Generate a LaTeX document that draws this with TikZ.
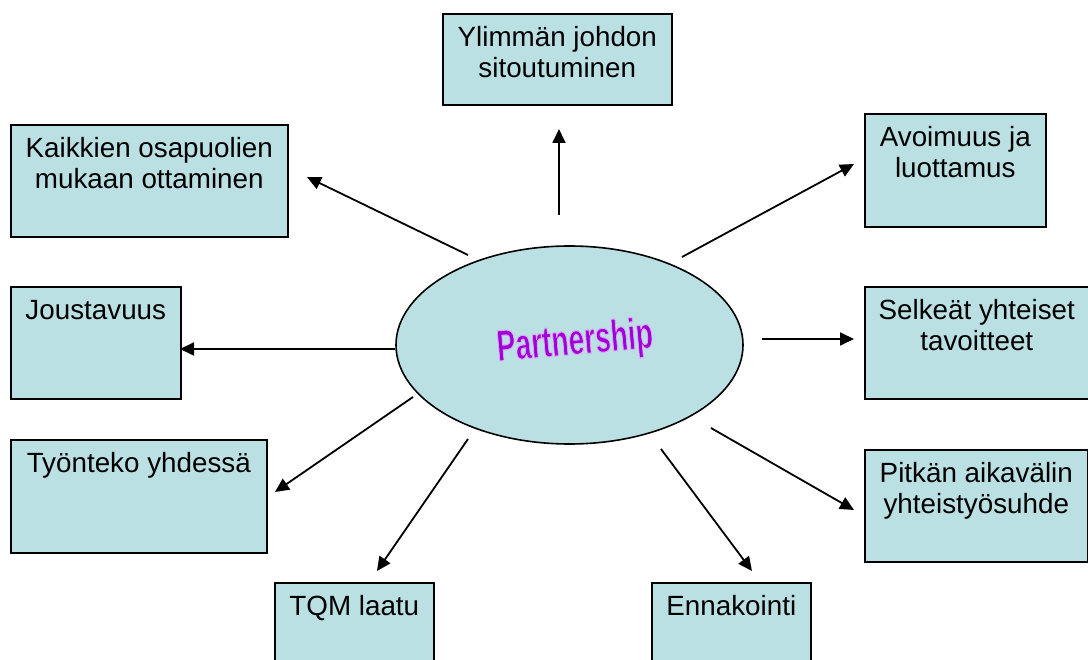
\documentclass[tikz,border=0pt]{standalone}
\usepackage{fontspec}
\setmainfont{Liberation Sans}
\usetikzlibrary{shapes.geometric,arrows.meta}
\definecolor{boxfill}{RGB}{187,224,227}
\definecolor{wordart}{RGB}{160,0,215}
\newcommand\bxtext[3]{\parbox[t][#2][t]{#1}{\centering\fontsize{27.8}{31}\selectfont\rule{0pt}{33pt}#3}}
\newcommand\outlinedtext[1]{\special{pdf:code q 2 Tr 1.1 w 0.86 0.66 0.96 RG}#1\special{pdf:code Q}}
\tikzset{
  boxnode/.style={draw=black, line width=1.6pt, fill=boxfill, inner sep=0pt, anchor=north west},
  conn/.style={line width=1.8pt, -{Triangle[length=14pt,width=13pt]}}
}
\begin{document}
\begin{tikzpicture}[x=1pt,y=-1pt]
\useasboundingbox (0,0) rectangle (1088,660);
\clip (0,0) rectangle (1088,660);
\fill[white] (0,0) rectangle (1088,660);
% boxes
\node[boxnode] (top)  at (442,13)  {\bxtext{229pt}{91pt}{Ylimmän johdon\\sitoutuminen}};
\node[boxnode] (kaik) at (10,124)  {\bxtext{277pt}{112pt}{Kaikkien osapuolien\\mukaan ottaminen}};
\node[boxnode] (avo)  at (864,113) {\bxtext{181pt}{113pt}{Avoimuus ja\\luottamus}};
\node[boxnode] (jous) at (10,286)  {\bxtext{170pt}{112pt}{Joustavuus}};
\node[boxnode] (selk) at (864,286) {\bxtext{224pt}{112pt}{Selkeät yhteiset\\tavoitteet}};
\node[boxnode] (tyon) at (10,439)  {\bxtext{256pt}{113pt}{Työnteko yhdessä}};
\node[boxnode] (pitk) at (864,449) {\bxtext{223pt}{112pt}{Pitkän aikavälin\\yhteistyösuhde}};
\node[boxnode] (tqm)  at (274,582) {\bxtext{159pt}{112pt}{TQM laatu}};
\node[boxnode] (enna) at (651,582) {\bxtext{159pt}{112pt}{Ennakointi}};
% central ellipse
\node[draw=black, line width=1.6pt, fill=boxfill, ellipse, inner sep=0pt,
      minimum width=347pt, minimum height=198pt] (P) at (569.5,345) {};
\node[rotate=5, inner sep=0pt, text=wordart] (ptxt) at (575,343)
  {\scalebox{0.64}[1]{\fontsize{44}{44}\selectfont\bfseries\outlinedtext{Partnership}}};
% connector end points
\coordinate (s1) at (559,215); \coordinate (e1) at (559,129);
\coordinate (s2) at (468,255); \coordinate (e2) at (307,177);
\coordinate (s3) at (682,257); \coordinate (e3) at (854,164);
\coordinate (s4) at (395,349); \coordinate (e4) at (180,349);
\coordinate (s5) at (762,339); \coordinate (e5) at (854,339);
\coordinate (s6) at (413,397); \coordinate (e6) at (275,492);
\coordinate (s7) at (468,439); \coordinate (e7) at (377,571);
\coordinate (s8) at (661,449); \coordinate (e8) at (752,571);
\coordinate (s9) at (711,428); \coordinate (e9) at (854,510);
\foreach \i in {1,...,9} { \draw[conn] (s\i) -- (e\i); }
\end{tikzpicture}
\end{document}
